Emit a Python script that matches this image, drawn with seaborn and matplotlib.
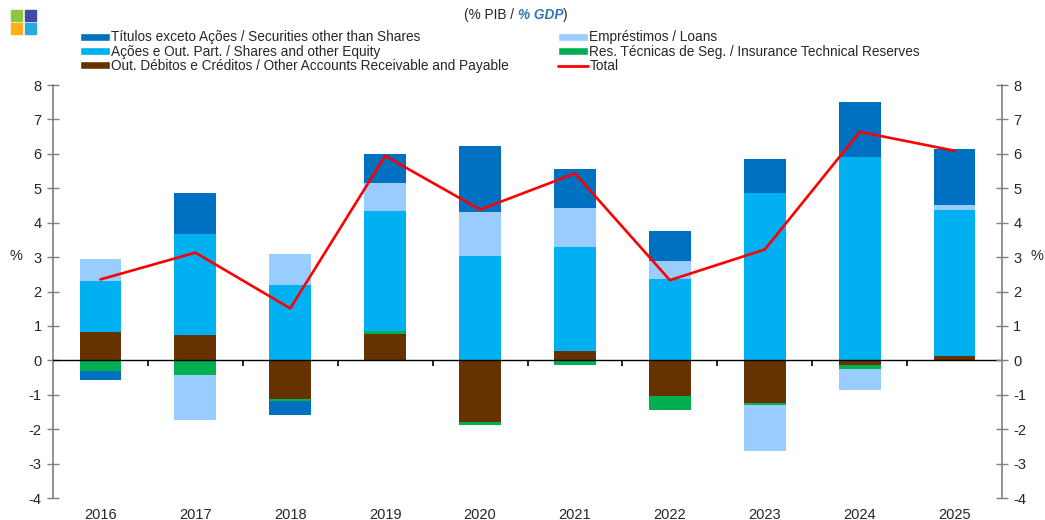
import numpy as np
import pandas as pd
import matplotlib
matplotlib.use("Agg")
import matplotlib.pyplot as plt
from matplotlib.patches import Patch, Rectangle
from matplotlib.lines import Line2D
from matplotlib.markers import TICKDOWN
import seaborn as sns

# data (% of GDP)
years = ["2016", "2017", "2018", "2019", "2020", "2021", "2022", "2023", "2024", "2025"]
securities = [-0.27, 1.17, -0.40, 0.83, 1.93, 1.13, 0.88, 0.99, 1.58, 1.63]
shares = [1.48, 2.93, 2.19, 3.48, 3.03, 3.03, 2.36, 4.87, 5.92, 4.23]
loans = [0.63, -1.31, 0.90, 0.83, 1.28, 1.14, 0.53, -1.34, -0.62, 0.13]
insurance = [-0.31, -0.43, -0.06, 0.09, -0.09, -0.14, -0.41, -0.05, -0.11, -0.03]
other = [0.83, 0.75, -1.13, 0.76, -1.80, 0.26, -1.04, -1.25, -0.14, 0.14]
total = [2.35, 3.13, 1.51, 5.94, 4.38, 5.43, 2.33, 3.22, 6.64, 6.09]

labels = {
    "securities": "Títulos exceto Ações / Securities other than Shares",
    "shares": "Ações e Out. Part. / Shares and other Equity",
    "other": "Out. Débitos e Créditos / Other Accounts Receivable and Payable",
    "loans": "Empréstimos / Loans",
    "insurance": "Res. Técnicas de Seg. / Insurance Technical Reserves",
    "total": "Total",
}
colors = {
    "securities": "#0070C0",
    "shares": "#00B0F0",
    "loans": "#99CCFF",
    "insurance": "#00B050",
    "other": "#663300",
    "total": "#FF0000",
}

df = pd.DataFrame({"year": years, "securities": securities, "shares": shares,
                   "loans": loans, "insurance": insurance, "other": other})

# stacking order from the zero line outwards
stack = ["other", "insurance", "shares", "loans", "securities"]
pos_cum = df[stack].clip(lower=0).cumsum(axis=1)
neg_cum = df[stack].clip(upper=0).cumsum(axis=1)

sns.set_style("white")
plt.rcParams["font.family"] = ["Liberation Sans", "DejaVu Sans"]
plt.rcParams["axes.unicode_minus"] = False

fig = plt.figure(figsize=(10.45, 5.2), dpi=100)
ax = fig.add_axes([0.0507, 0.0423, 0.9082, 0.7942])

# draw outermost layer first, inner layers painted over it
for s in reversed(stack):
    for cum in (pos_cum, neg_cum):
        sns.barplot(x=df["year"], y=cum[s], color=colors[s], saturation=1,
                    width=0.44, linewidth=0, errorbar=None, ax=ax, zorder=2)

sns.lineplot(x=years, y=total, color=colors["total"], linewidth=1.9, sort=False,
             ax=ax, zorder=4)

ax.set_ylim(-4, 8)
ax.set_xlim(-0.5, len(years) - 0.5)
ax.set_yticks(range(-4, 9))
ax.set_xlabel("")
ax.set_ylabel("")
ax.axhline(0, color="black", linewidth=1, zorder=3)

# small separators between years on the zero line
sep = np.arange(len(years) - 1) + 0.5
ax.plot(sep, np.zeros_like(sep), linestyle="none", marker=TICKDOWN, markersize=4,
        markeredgewidth=1.2, color="black", zorder=3)

grey = "#7f7f7f"
txt = "#262626"
for sp in ["top", "right", "bottom"]:
    ax.spines[sp].set_visible(False)
ax.spines["left"].set_color(grey)
ax.spines["left"].set_linewidth(1.2)
ax.tick_params(axis="y", left=True, direction="inout", length=8, width=1, color=grey,
               labelsize=10.5, pad=4, labelcolor=txt)
ax.tick_params(axis="x", length=0, labelsize=10.5, pad=7, labelcolor=txt)

ax2 = ax.twinx()
ax2.set_ylim(-4, 8)
ax2.set_yticks(range(-4, 9))
for sp in ["top", "left", "bottom"]:
    ax2.spines[sp].set_visible(False)
ax2.spines["right"].set_color(grey)
ax2.spines["right"].set_linewidth(1.2)
ax2.tick_params(axis="y", right=True, direction="inout", length=8, width=1, color=grey,
                labelsize=10.5, pad=4, labelcolor=txt)

fig.text(16 / 1045, 1 - 256 / 520, "%", fontsize=10.5, ha="center", va="center", color=txt)
fig.text(1037 / 1045, 1 - 256 / 520, "%", fontsize=10.5, ha="center", va="center", color=txt)

# title with italic english part
t1 = fig.text(464 / 1045, 1 - 22 / 520, "(% PIB / ", fontsize=9.8, va="bottom", ha="left",
              color=txt)
t2 = fig.text(0, 0, "% GDP", fontsize=9.8, va="bottom", ha="left", color="#2E75B6",
              style="italic", weight="bold")
fig.canvas.draw()
bb = t1.get_window_extent()
t2.set_position(fig.transFigure.inverted().transform((bb.x1, bb.y0)))
fig.canvas.draw()
bb2 = t2.get_window_extent()
fig.text(*fig.transFigure.inverted().transform((bb2.x1, bb2.y0)), ")", fontsize=9.8,
         va="bottom", ha="left", color=txt)

# logo squares
logo = [("#8DC63F", 11, 10), ("#3F4BA4", 25, 10), ("#FCAF17", 11, 23), ("#29ABE2", 25, 23)]
for c, px, py in logo:
    fig.patches.append(Rectangle((px / 1045, 1 - (py + 10.5) / 520), 10.5 / 1045, 10.5 / 520,
                                 transform=fig.transFigure, color=c, figure=fig))

left_keys = ["securities", "shares", "other"]
right_keys = ["loans", "insurance"]
h_left = [Patch(facecolor=colors[k], label=labels[k]) for k in left_keys]
h_right = [Patch(facecolor=colors[k], label=labels[k]) for k in right_keys]
h_right.append(Line2D([], [], color=colors["total"], linewidth=2, label=labels["total"]))

leg_kw = dict(frameon=False, fontsize=9.8, handlelength=2.2, handleheight=0.5,
              handletextpad=0.1, labelspacing=0.02, borderpad=0, borderaxespad=0,
              loc="upper left")
l1 = fig.legend(handles=h_left, bbox_to_anchor=(80 / 1045, 1 - 30.5 / 520), **leg_kw)
l2 = fig.legend(handles=h_right, bbox_to_anchor=(558 / 1045, 1 - 30.5 / 520), **leg_kw)
for leg in (l1, l2):
    for t in leg.get_texts():
        t.set_color(txt)

fig.savefig("out.png", dpi=100)
